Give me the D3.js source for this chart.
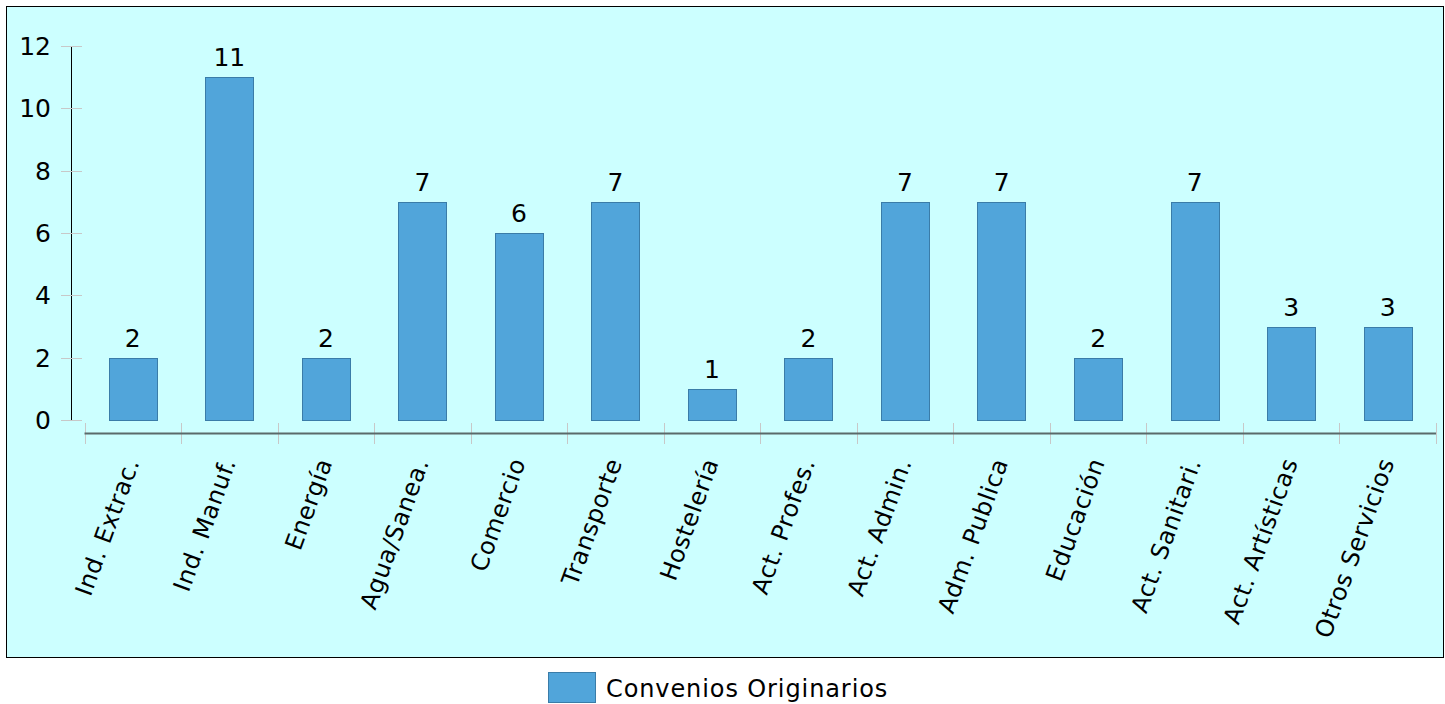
<!DOCTYPE html>
<html>
<head>
<meta charset="utf-8">
<script src="https://cdn.jsdelivr.net/npm/d3@7/dist/d3.min.js"></script>
<style>
  html, body { margin: 0; padding: 0; background: #fff; }
  svg { display: block; font-family: "DejaVu Sans", sans-serif; }
</style>
</head>
<body>
<div class="container"></div>
<script>
(function(d3) {
  "use strict";

  var categories = [
    "Ind. Extrac.", "Ind. Manuf.", "Energía", "Agua/Sanea.", "Comercio",
    "Transporte", "Hostelería", "Act. Profes.", "Act. Admin.", "Adm. Publica",
    "Educación", "Act. Sanitari.", "Act. Artísticas", "Otros Servicios"
  ];
  var values = [2, 11, 2, 7, 6, 7, 1, 2, 7, 7, 2, 7, 3, 3];
  var yTicks = [0, 2, 4, 6, 8, 10, 12];
  var seriesName = "Convenios Originarios";

  var width = 1445, height = 704;

  var svg = d3.select(".container").append("svg")
      .attr("width", width)
      .attr("height", height);

  // plot frame
  svg.append("rect")
      .attr("x", 6.5).attr("y", 6.5)
      .attr("width", 1437).attr("height", 651)
      .style("fill", "#ccffff")
      .style("stroke", "#000")
      .style("stroke-width", 1);

  var x = d3.scaleBand()
      .domain(categories)
      .range([84.5, 1436])
      .paddingInner(0.5)
      .paddingOuter(0.25);

  var xTicks = d3.scaleBand().domain(categories).range([84.5, 1436]);

  var y = d3.scaleLinear()
      .domain([0, 12])
      .range([420, 46]);

  // y axis
  var yAxis = svg.append("g").attr("class", "y-axis");
  yAxis.append("line")
      .attr("x1", 71.5).attr("x2", 71.5)
      .attr("y1", y(12)).attr("y2", y(0))
      .style("stroke", "#000");
  yAxis.selectAll(".tick")
      .data(yTicks)
    .enter().append("line")
      .attr("x1", 61).attr("x2", 82)
      .attr("y1", function(d) { return Math.round(y(d)) + 0.5; })
      .attr("y2", function(d) { return Math.round(y(d)) + 0.5; })
      .style("stroke", "#c8c8c8");
  yAxis.selectAll(".lbl")
      .data(yTicks)
    .enter().append("text")
      .attr("x", 51)
      .attr("y", function(d) { return y(d); })
      .attr("dy", "0.36em")
      .attr("text-anchor", "end")
      .style("font-size", "25px")
      .text(function(d) { return d; });

  // x axis
  var xAxis = svg.append("g").attr("class", "x-axis");
  var tickPos = categories.map(function(c) { return xTicks(c); }).concat([1436]);
  xAxis.selectAll(".tick")
      .data(tickPos)
    .enter().append("line")
      .attr("x1", function(d) { return Math.round(d) + 0.5; })
      .attr("x2", function(d) { return Math.round(d) + 0.5; })
      .attr("y1", 423).attr("y2", 444)
      .style("stroke", "#c8c8c8");
  xAxis.append("line")
      .attr("x1", 84.5).attr("x2", 1436)
      .attr("y1", 433.5).attr("y2", 433.5)
      .style("stroke", "#5a6a6a")
      .style("stroke-width", 2);

  xAxis.selectAll(".lbl")
      .data(categories)
    .enter().append("text")
      .attr("transform", function(d) {
        return "translate(" + (x(d) + x.bandwidth() / 2 + 7) + ",462) rotate(-70)";
      })
      .attr("text-anchor", "end")
      .style("font-size", "24px")
      .style("letter-spacing", "0.6px")
      .text(function(d) { return d; });

  // bars
  svg.selectAll(".bar")
      .data(values)
    .enter().append("rect")
      .attr("class", "bar")
      .attr("x", function(d, i) { return Math.round(x(categories[i])) + 0.5; })
      .attr("y", function(d) { return Math.round(y(d)) + 0.5; })
      .attr("width", Math.round(x.bandwidth()))
      .attr("height", function(d) { return Math.round(y(0)) - Math.round(y(d)); })
      .style("fill", "#51a5da")
      .style("stroke", "#3a7ca8")
      .style("stroke-width", 1);

  svg.selectAll(".val")
      .data(values)
    .enter().append("text")
      .attr("x", function(d, i) { return x(categories[i]) + x.bandwidth() / 2; })
      .attr("y", function(d) { return y(d) - 11; })
      .attr("text-anchor", "middle")
      .style("font-size", "25px")
      .text(function(d) { return d; });

  // legend
  var legend = svg.append("g").attr("transform", "translate(548,672)");
  legend.append("rect")
      .attr("x", 0.5).attr("y", 0.5)
      .attr("width", 47).attr("height", 30)
      .style("fill", "#51a5da")
      .style("stroke", "#3a7ca8");
  legend.append("text")
      .attr("x", 58).attr("y", 25)
      .style("font-size", "24px")
      .style("letter-spacing", "0.9px")
      .text(seriesName);

}(d3));
</script>
</body>
</html>
